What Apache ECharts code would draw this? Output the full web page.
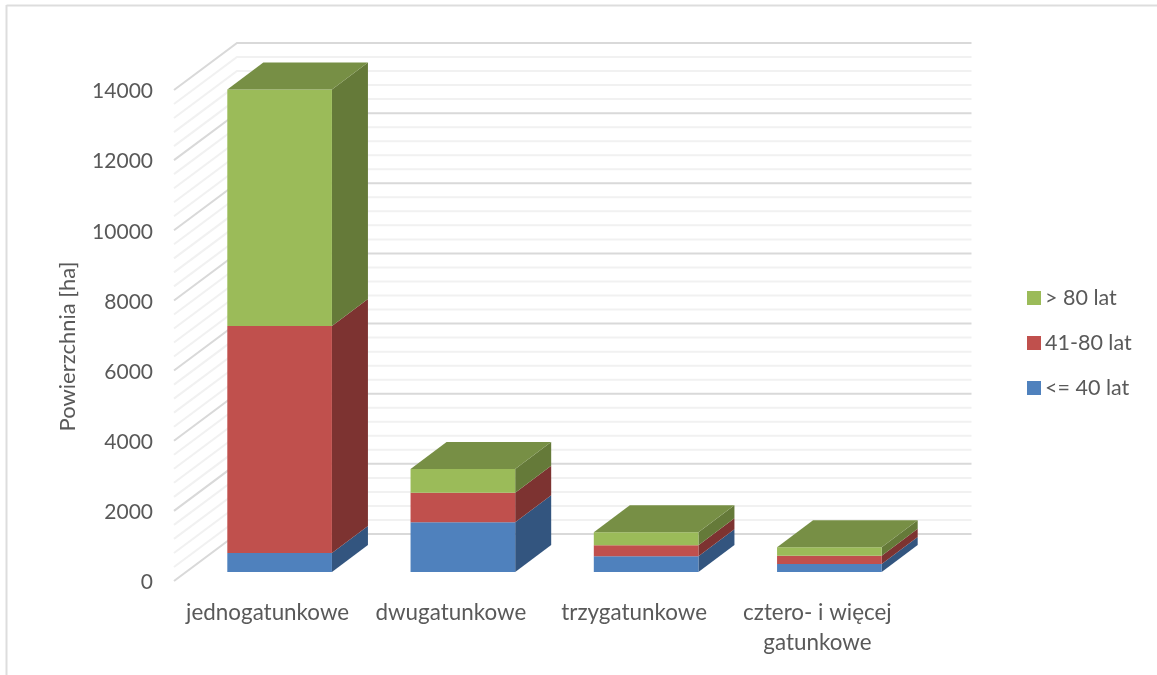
<!DOCTYPE html>
<html>
<head>
<meta charset="utf-8">
<style>html,body{margin:0;padding:0;background:#fff}#c{width:1157px;height:675px}</style>
<script src="https://cdn.jsdelivr.net/npm/echarts@6/dist/echarts.min.js"></script>
</head>
<body>
<div id="c"></div>
<script>
const categories = ['jednogatunkowe', 'dwugatunkowe', 'trzygatunkowe', 'cztero- i więcej\ngatunkowe'];
const young = [540, 1417, 448, 228];
const middle = [6474, 844, 313, 237];
const old = [6744, 676, 371, 239];
const majorLines = [0, 2000, 4000, 6000, 8000, 10000, 12000, 14000];
const minorLines = [400, 800, 1200, 1600, 2400, 2800, 3200, 3600, 4400, 4800, 5200, 5600, 6400, 6800, 7200, 7600, 8400, 8800, 9200, 9600, 10400, 10800, 11200, 11600, 12400, 12800, 13200, 13600];

const font = 'Lato, Carlito, sans-serif';
const WALL = [63, -47], PLANE = [12, -9], DEPTH = [36, -27];
const BAR = 0.571;
const WALL_INSET = 2;

function wallSeries(values, color, z) {
  return {
    type: 'custom', silent: true, z: z, coordinateSystem: 'cartesian2d',
    data: values.map(v => [0, v]),
    encode: { x: 0, y: 1 },
    renderItem(params, api) {
      const v = api.value(1);
      const a = api.coord([0, v]);
      const band = api.size([1, 0])[0];
      const x0 = a[0] - band / 2 - WALL_INSET;
      const x1 = x0 + band * categories.length + 1.5;
      return {
        type: 'polyline',
        shape: { points: [[x0, a[1]], [x0 + WALL[0], a[1] + WALL[1]], [x1 + WALL[0], a[1] + WALL[1]]] },
        style: { stroke: color, lineWidth: 2, fill: null }
      };
    }
  };
}

function stackSeries(name, values, base, front, side, top, drawTop) {
  return {
    name, type: 'custom', z: 5, coordinateSystem: 'cartesian2d',
    itemStyle: { color: front },
    data: values.map((v, i) => [i, base[i], base[i] + v]),
    encode: { x: 0, y: [1, 2] },
    renderItem(params, api) {
      const i = api.value(0);
      const p0 = api.coord([i, api.value(1)]);
      const p1 = api.coord([i, api.value(2)]);
      const w = api.size([1, 0])[0] * BAR;
      const xl = p0[0] - w / 2 + PLANE[0], xr = xl + w;
      const yb = p0[1] + PLANE[1], yt = p1[1] + PLANE[1];
      const dx = DEPTH[0], dy = DEPTH[1];
      const kids = [
        { type: 'polygon', shape: { points: [[xr, yb], [xr + dx, yb + dy], [xr + dx, yt + dy], [xr, yt]] }, style: { fill: side } },
        { type: 'rect', shape: { x: xl, y: yt, width: w, height: yb - yt }, style: { fill: front } }
      ];
      if (drawTop) kids.push({ type: 'polygon', shape: { points: [[xl, yt], [xl + dx, yt + dy], [xr + dx, yt + dy], [xr, yt]] }, style: { fill: top } });
      return { type: 'group', children: kids };
    }
  };
}

const base2 = young.map((v) => v);
const base3 = young.map((v, i) => v + middle[i]);
const zero = young.map(() => 0);

const chart = echarts.init(document.getElementById('c'), null, { renderer: 'canvas' });
chart.setOption({
  animation: false,
  backgroundColor: '#fff',
  textStyle: { fontFamily: font },
  grid: { left: 176, top: 90, width: 733, height: 491, containLabel: false },
  xAxis: {
    type: 'category', data: categories,
    axisLine: { show: false }, axisTick: { show: false }, splitLine: { show: false },
    axisLabel: { color: '#595959', fontSize: 22.4, fontFamily: font, margin: 17, lineHeight: 30, interval: 0 }
  },
  yAxis: {
    type: 'value', min: 0, max: 14000, interval: 2000,
    name: 'Powierzchnia [ha]', nameLocation: 'middle', nameGap: 97,
    nameTextStyle: { color: '#595959', fontSize: 22, fontFamily: font, padding: [0, 22, 0, 0] },
    axisLine: { show: false }, axisTick: { show: false }, splitLine: { show: false },
    axisLabel: {
      color: '#595959', fontSize: 21, fontFamily: font, margin: 23,
      formatter: (v) => '{t|' + v + '}',
      rich: { t: { color: '#595959', fontSize: 21, fontFamily: font, padding: [3, 0, 0, 0] } }
    }
  },
  legend: {
    orient: 'vertical', left: 1022, top: 281, itemWidth: 14, itemHeight: 14, itemGap: 21,
    icon: 'rect', selectedMode: false,
    data: ['> 80 lat', '41-80 lat', '<= 40 lat'],
    textStyle: { color: '#595959', fontSize: 21.5, fontFamily: font, padding: [0, 0, 0, -1], lineHeight: 24 }
  },
  graphic: [
    { type: 'line', silent: true, shape: { x1: 6.5, y1: 5.5, x2: 1157, y2: 5.5 }, style: { stroke: '#DDDDDD', lineWidth: 2 } },
    { type: 'line', silent: true, shape: { x1: 6.5, y1: 5, x2: 6.5, y2: 675 }, style: { stroke: '#DDDDDD', lineWidth: 2 } }
  ],
  series: [
    wallSeries(minorLines, '#F1F1F1', 1),
    wallSeries(majorLines, '#D9D9D9', 2),
    stackSeries('<= 40 lat', young, zero, '#4F81BD', '#33557F', '#3F6797', false),
    stackSeries('41-80 lat', middle, base2, '#C0504D', '#7D3331', '#9A403E', false),
    stackSeries('> 80 lat', old, base3, '#9BBB59', '#657A39', '#778F45', true)
  ]
});
</script>
</body>
</html>
